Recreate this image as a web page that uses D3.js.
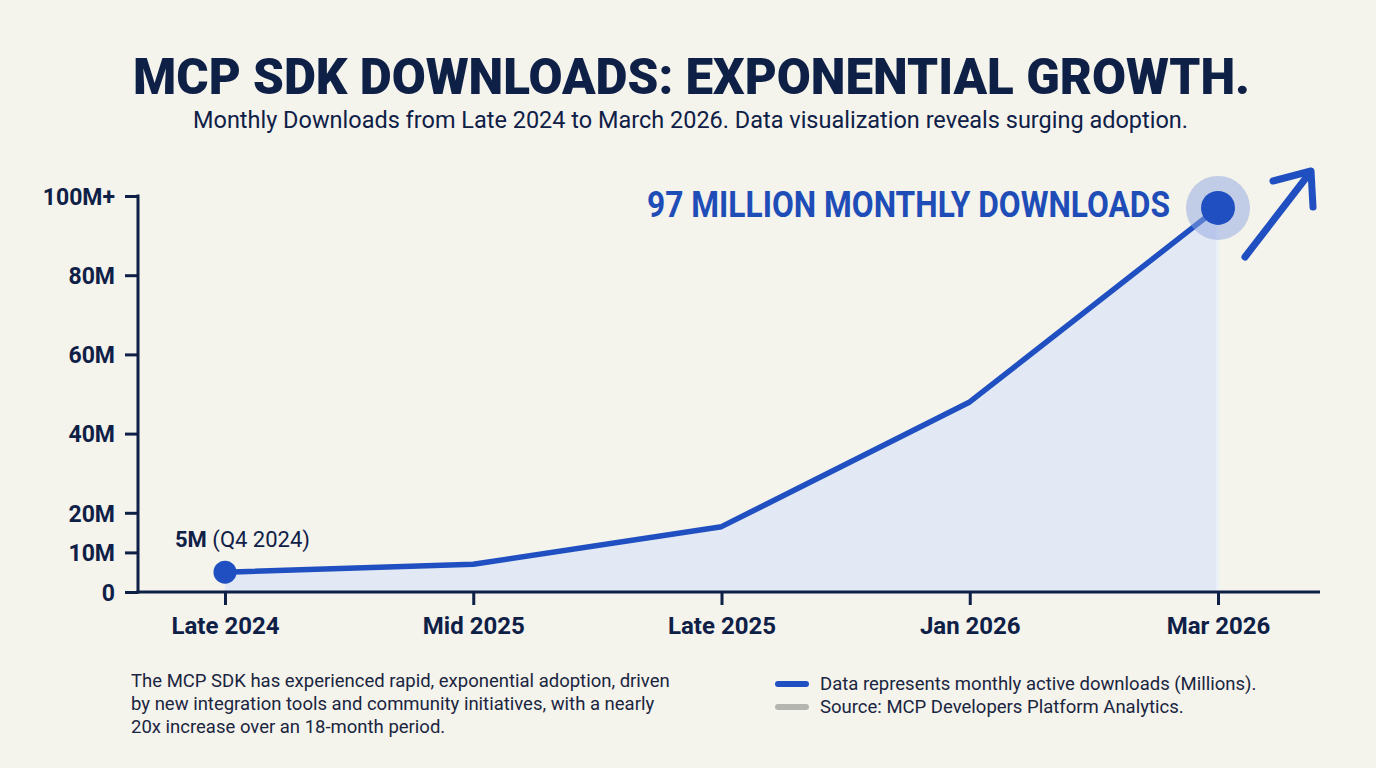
<!DOCTYPE html>
<html>
<head>
<meta charset="utf-8">
<script src="https://cdn.jsdelivr.net/npm/d3@7"></script>
<style>
  html, body { margin: 0; padding: 0; background: #f4f3ec; }
  svg { display: block; font-family: Roboto, "Noto Sans", sans-serif; }
</style>
</head>
<body>
<div id="chart"></div>
<script>
// chart data (monthly downloads, millions)
var periods = ["Late 2024", "Mid 2025", "Late 2025", "Jan 2026", "Mar 2026"];
var downloads = [5, 7, 16.5, 48, 97];
var yTickValues = [0, 10, 20, 40, 60, 80, 100];
var yTickLabels = ["0", "10M", "20M", "40M", "60M", "80M", "100M+"];
var footNote = [
  "The MCP SDK has experienced rapid, exponential adoption, driven",
  "by new integration tools and community initiatives, with a nearly",
  "20x increase over an 18-month period."
];
var legendItems = [
  {label: "Data represents monthly active downloads (Millions).", color: "#1f4fc0"},
  {label: "Source: MCP Developers Platform Analytics.", color: "#b5b5b0"}
];

var W = 1376, H = 768;
var navy = "#0f2047", blue = "#1f4fc0";
// plot area
var axisLeft = 138, axisRight = 1320, axisBottom = 592, axisTop = 196;

var svg = d3.select("#chart").append("svg")
  .attr("width", W)
  .attr("height", H);

svg.append("rect").attr("width", W).attr("height", H).attr("fill", "#f4f3ec");

// title + subtitle
svg.append("text")
  .attr("x", 133).attr("y", 94)
  .attr("textLength", 1117).attr("lengthAdjust", "spacingAndGlyphs")
  .style("font-size", "50px").style("font-weight", 900)
  .attr("fill", navy)
  .text("MCP SDK DOWNLOADS: EXPONENTIAL GROWTH.");

svg.append("text")
  .attr("x", 193).attr("y", 128)
  .attr("textLength", 995).attr("lengthAdjust", "spacingAndGlyphs")
  .style("font-size", "23px")
  .attr("fill", navy)
  .text("Monthly Downloads from Late 2024 to March 2026. Data visualization reveals surging adoption.");

// scales
var x = d3.scalePoint()
  .domain(periods)
  .range([225, 1218]);

var y = d3.scaleLinear()
  .domain([0, 100])
  .range([axisBottom, axisTop]);

var pts = periods.map(function(p, i) { return {p: p, v: downloads[i]}; });

// area under line
svg.append("path")
  .datum(pts)
  .attr("fill", "#e2e9f5")
  .attr("d", d3.area()
    .x(function(d) { return x(d.p); })
    .y0(y(0))
    .y1(function(d) { return y(d.v); }));

// right edge of area, a touch lighter
svg.append("rect")
  .attr("x", x(periods[periods.length - 1]) - 2)
  .attr("y", y(downloads[downloads.length - 1]))
  .attr("width", 3)
  .attr("height", y(0) - y(downloads[downloads.length - 1]))
  .attr("fill", "#eaeff8");

// axes
var yAxis = svg.append("g")
  .attr("transform", "translate(" + axisLeft + ",0)")
  .call(d3.axisLeft(y).tickValues(yTickValues).tickSize(13).tickPadding(10)
    .tickFormat(function(d, i) { return yTickLabels[i]; }));
yAxis.attr("font-family", null).attr("font-size", null);
yAxis.select(".domain").remove();
yAxis.selectAll(".tick line").attr("stroke", navy).attr("stroke-width", 3);
yAxis.selectAll(".tick text")
  .attr("fill", navy)
  .style("font-size", "23px").style("font-weight", 700)
  .attr("dy", "0.36em");

svg.append("line")
  .attr("x1", axisLeft).attr("x2", axisLeft)
  .attr("y1", axisTop - 1.5).attr("y2", axisBottom + 1.5)
  .attr("stroke", navy).attr("stroke-width", 3);

var xAxis = svg.append("g")
  .attr("transform", "translate(0," + axisBottom + ")")
  .call(d3.axisBottom(x).tickSize(13).tickPadding(10));
xAxis.attr("font-family", null).attr("font-size", null);
xAxis.select(".domain").remove();
xAxis.selectAll(".tick line").attr("stroke", navy).attr("stroke-width", 3);
xAxis.selectAll(".tick text")
  .attr("fill", navy)
  .attr("y", 42).attr("dy", 0)
  .style("font-size", "24px").style("font-weight", 700);

svg.append("line")
  .attr("x1", axisLeft - 1.5).attr("x2", axisRight)
  .attr("y1", axisBottom).attr("y2", axisBottom)
  .attr("stroke", navy).attr("stroke-width", 3);

// line
svg.append("path")
  .datum(pts)
  .attr("fill", "none")
  .attr("stroke", blue)
  .attr("stroke-width", 5.5)
  .attr("stroke-linejoin", "round")
  .attr("d", d3.line()
    .x(function(d) { return x(d.p); })
    .y(function(d) { return y(d.v); }));

// endpoints
var first = pts[0], last = pts[pts.length - 1];
svg.append("circle")
  .attr("cx", x(first.p)).attr("cy", y(first.v)).attr("r", 11.5)
  .attr("fill", blue);

svg.append("circle")
  .attr("cx", x(last.p)).attr("cy", y(last.v)).attr("r", 32)
  .attr("fill", "#8ea6e0").attr("opacity", 0.5);
svg.append("circle")
  .attr("cx", x(last.p)).attr("cy", y(last.v)).attr("r", 17)
  .attr("fill", blue);

// labels on points
var startLbl = svg.append("text")
  .attr("x", x(first.p) - 50).attr("y", y(first.v) - 25)
  .attr("fill", navy)
  .style("font-size", "22px");
startLbl.append("tspan").style("font-weight", 700).text(first.v + "M");
startLbl.append("tspan").text(" (Q4 2024)");

svg.append("text")
  .attr("x", 1170).attr("y", 217)
  .attr("text-anchor", "end")
  .attr("textLength", 523).attr("lengthAdjust", "spacingAndGlyphs")
  .attr("fill", "#1f4db8")
  .style("font-size", "36px").style("font-weight", 700)
  .text(Math.round(last.v) + " MILLION MONTHLY DOWNLOADS");

// growth arrow
svg.append("line")
  .attr("x1", 1245).attr("y1", 257).attr("x2", 1309).attr("y2", 174)
  .attr("stroke", blue).attr("stroke-width", 7).attr("stroke-linecap", "round");
svg.append("path")
  .attr("d", "M1273,181 L1311,171 L1313,207")
  .attr("fill", "none")
  .attr("stroke", blue).attr("stroke-width", 7)
  .attr("stroke-linecap", "round").attr("stroke-linejoin", "round");

// footnote
svg.append("g").selectAll("text")
  .data(footNote)
  .enter().append("text")
  .attr("x", 131)
  .attr("y", function(d, i) { return 687 + i * 23; })
  .attr("fill", "#1a2540")
  .style("font-size", "18.5px")
  .text(function(d) { return d; });

// legend
var leg = svg.append("g").selectAll("g")
  .data(legendItems)
  .enter().append("g")
  .attr("transform", function(d, i) { return "translate(778," + (684 + i * 23) + ")"; });
leg.append("line")
  .attr("x1", 0).attr("x2", 28)
  .attr("stroke", function(d) { return d.color; })
  .attr("stroke-width", 6).attr("stroke-linecap", "round");
leg.append("text")
  .attr("x", 42).attr("y", 6)
  .attr("fill", "#1a2540")
  .style("font-size", "18.5px")
  .text(function(d) { return d.label; });
</script>
</body>
</html>
